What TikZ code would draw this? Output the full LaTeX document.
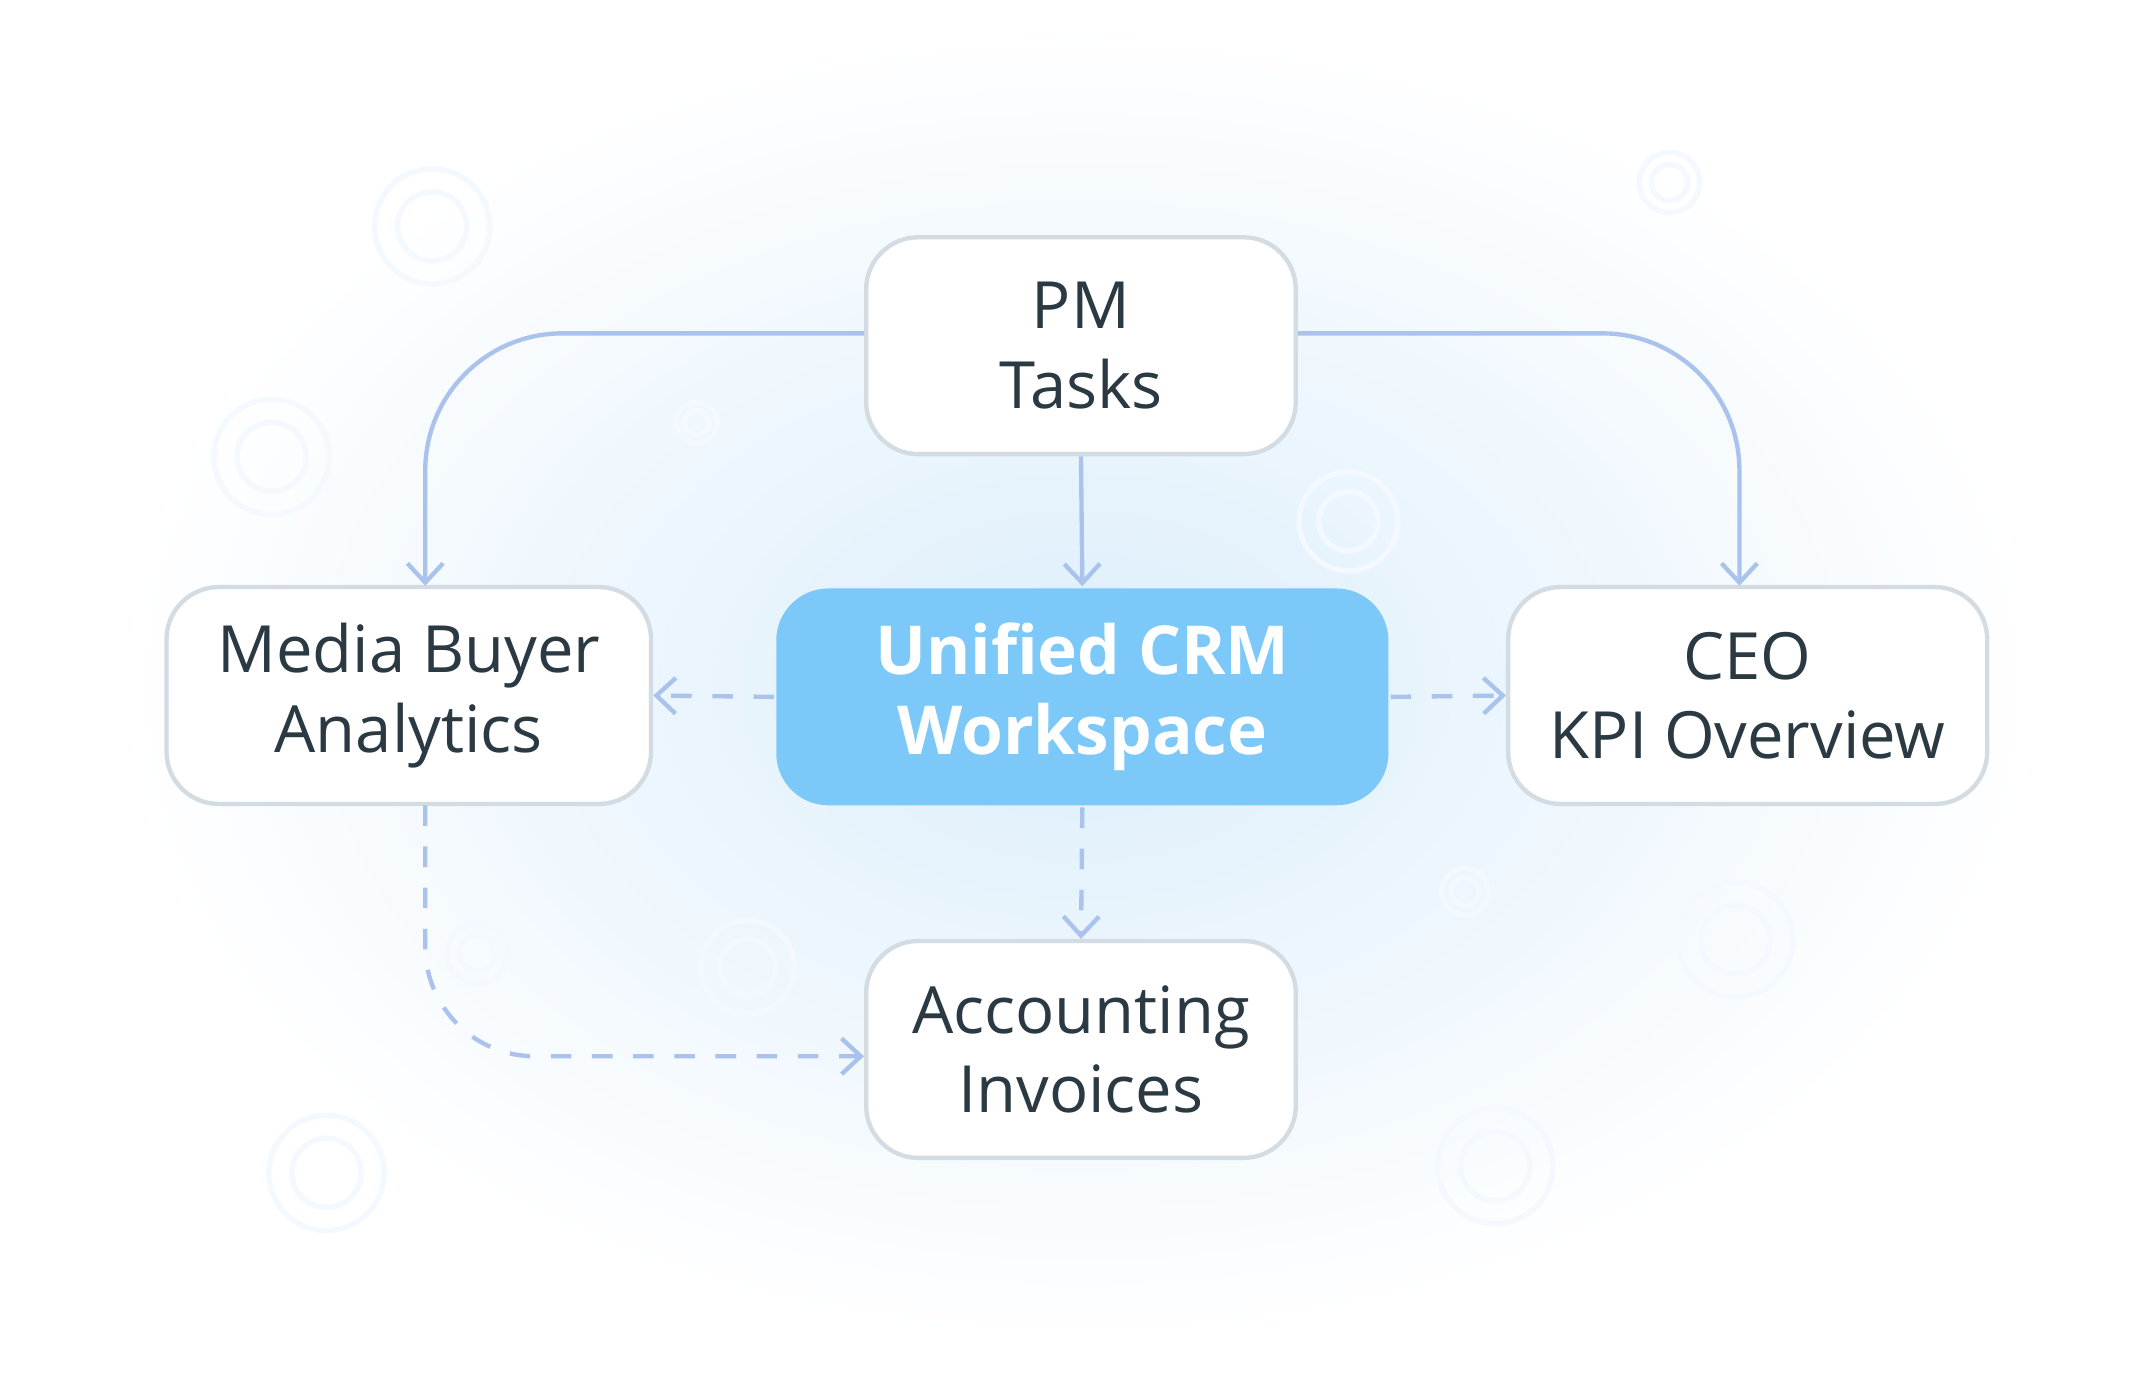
\documentclass[tikz,border=0pt]{standalone}
\usepackage{fontspec}
\setmainfont{Open Sans}
\usetikzlibrary{arrows.meta}
\definecolor{linkblue}{HTML}{A9C3EC}
\definecolor{hubfill}{HTML}{7CC8F8}
\definecolor{inkdark}{HTML}{2B3A42}
\definecolor{edgegray}{HTML}{D3DBE3}
\definecolor{glow}{HTML}{DCEEFB}

\tikzset{
  card/.style = {draw=edgegray, line width=0.9pt, fill=white, rounded corners=0.38cm,
    minimum width=#1, minimum height=1.58cm, inner sep=0pt, align=center, text=inkdark,
    font=\fontsize{13.5pt}{16.5pt}\selectfont},
  hub/.style = {card=#1, draw=none, fill=hubfill, text=white, font=\fontsize{14pt}{16.5pt}\selectfont\bfseries},
  link/.style = {draw=linkblue, line width=0.9pt, -{Straight Barb[length=1.4mm,width=2.6mm]}},
  dlink/.style = {link, dash pattern=on 1.5mm off 1.5mm},
  ring/.style = {draw=glow!35, line width=1.1pt}
}

\begin{document}
\begin{tikzpicture}[x=0.01cm, y=-0.01cm]
\useasboundingbox (0,0) rectangle (1560,1006);
\fill[white] (0,0) rectangle (1560,1006);
\shade[inner color=glow, outer color=white] (788,500) ellipse (700 and 480);

% faint rings
\foreach \x/\y/\r in {315/165/42, 198/333/42, 508/308/15, 983/380/36, 1217/133/22,
                     1068/650/17, 1265/685/42, 545/705/34, 348/695/22, 238/855/42, 1090/850/42}
  \draw[ring] (\x,\y) circle (\r) (\x,\y) circle (0.6*\r);

% cards
\node[card=3.13cm] (pm) at (788,252) {PM\\Tasks};
\node[card=3.53cm] (media) at (298,507) {Media Buyer\\Analytics};
\node[hub=4.46cm] (crm) at (789,508) {Unified CRM\\Workspace};
\node[card=3.49cm] (ceo) at (1274,507) {CEO\\KPI Overview};
\node[card=3.13cm] (acct) at (788,765) {Accounting\\Invoices};

% solid links from PM
\draw[link, rounded corners=1.0cm] (pm.west |- 0,243) -- (310,243) -- (310,427);
\draw[link, rounded corners=1.0cm] (pm.east |- 0,243) -- (1268,243) -- (1268,427);
\draw[link] (pm.south) -- (crm.north);

% dashed links from hub
\draw[dlink] (crm.west) -- (media.east);
\draw[dlink] (crm.east) -- (ceo.west);
\draw[dlink] (crm.south) -- (acct.north);
\draw[dlink, rounded corners=0.8cm] (310,587) -- (310,770) -- (acct.west |- 0,770);
\end{tikzpicture}
\end{document}
